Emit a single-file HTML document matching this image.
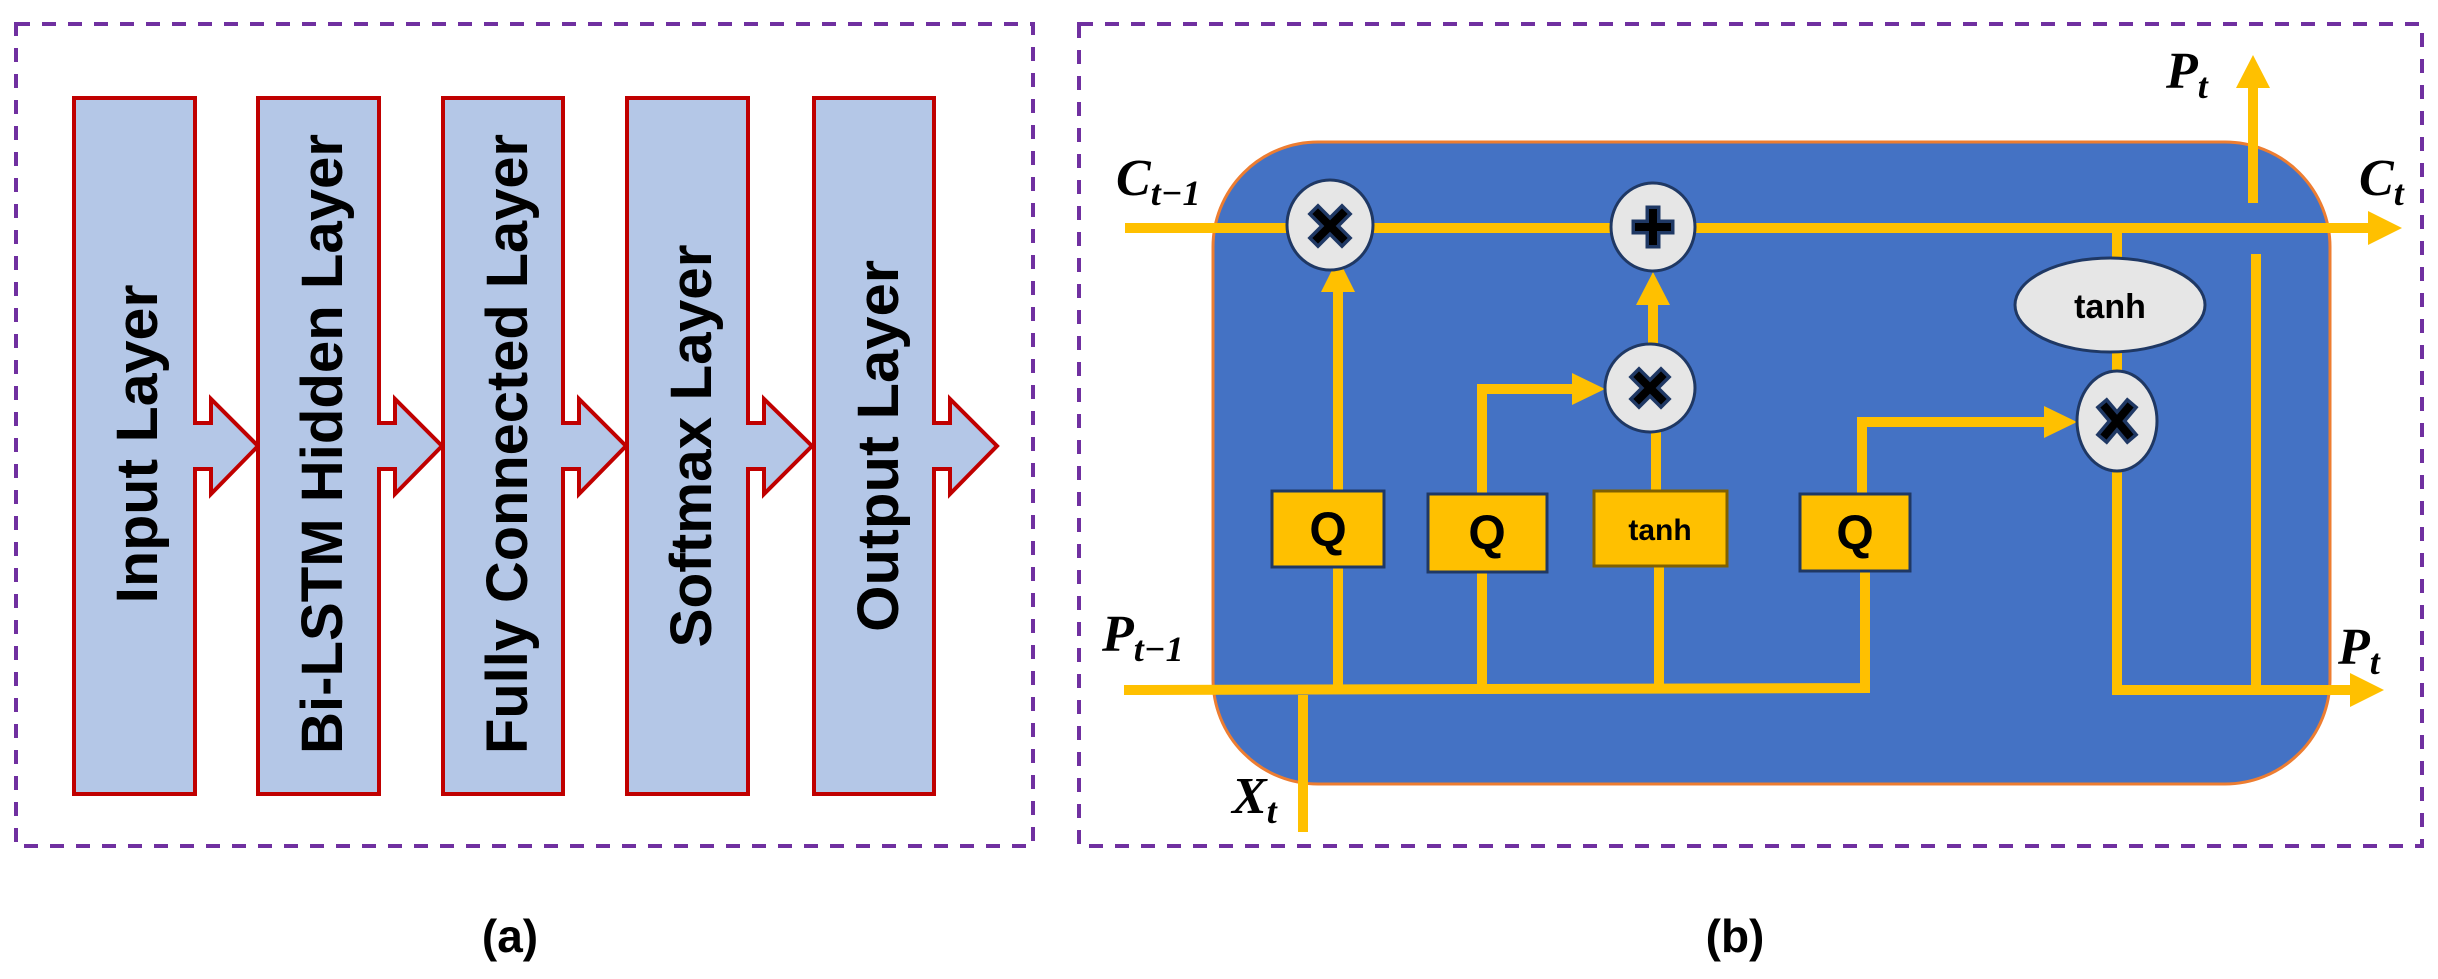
<!DOCTYPE html>
<html><head><meta charset="utf-8"><style>
html,body{margin:0;padding:0;background:#fff;}
svg{display:block;}
.lt{font-family:"Liberation Sans",sans-serif;font-weight:bold;font-size:58px;fill:#000;}
.m{font-family:"Liberation Serif",serif;font-weight:bold;font-style:italic;fill:#000;}
.q{font-family:"Liberation Sans",sans-serif;font-weight:bold;fill:#000;}
</style></head><body>
<svg width="2438" height="979" viewBox="0 0 2438 979" xmlns="http://www.w3.org/2000/svg">
<defs>
<g id="arr"><path d="M0,0 h16 v-23 l47,46 -47,46 v-23 h-16" fill="#B4C7E7" stroke="#C00000" stroke-width="3"/></g>
</defs>
<!-- panel a -->
<rect x="16" y="24" width="1017" height="822" fill="none" stroke="#7030A0" stroke-width="4" stroke-dasharray="14 12"/>
<g fill="#B4C7E7" stroke="#C00000" stroke-width="4" stroke-linejoin="miter">
<path d="M74,98 H195 V423 H211 V399 L258,446 L211,494 V469 H195 V794 H74 Z"/>
<path d="M258,98 H379 V423 H395 V399 L442,446 L395,494 V469 H379 V794 H258 Z"/>
<path d="M443,98 H563 V423 H579 V399 L626,446 L579,494 V469 H563 V794 H443 Z"/>
<path d="M627,98 H748 V423 H764 V399 L812,446 L764,494 V469 H748 V794 H627 Z"/>
<path d="M814,98 H934 V423 H950 V399 L997,446 L950,494 V469 H934 V794 H814 Z"/>
</g>
<text class="lt" transform="translate(157,444) rotate(-90)" text-anchor="middle" textLength="319" lengthAdjust="spacingAndGlyphs">Input Layer</text>
<text class="lt" transform="translate(342,444) rotate(-90)" text-anchor="middle" textLength="620" lengthAdjust="spacingAndGlyphs">Bi-LSTM Hidden Layer</text>
<text class="lt" transform="translate(527,444) rotate(-90)" text-anchor="middle" textLength="620" lengthAdjust="spacingAndGlyphs">Fully Connected Layer</text>
<text class="lt" transform="translate(711,446) rotate(-90)" text-anchor="middle" textLength="403" lengthAdjust="spacingAndGlyphs">Softmax Layer</text>
<text class="lt" transform="translate(898,446) rotate(-90)" text-anchor="middle" textLength="372" lengthAdjust="spacingAndGlyphs">Output Layer</text>
<text class="q" x="510" y="952" font-size="46" text-anchor="middle">(a)</text>

<!-- panel b -->
<rect x="1079" y="24" width="1343" height="822" fill="none" stroke="#7030A0" stroke-width="4" stroke-dasharray="14 12"/>
<rect x="1213" y="142" width="1117" height="642" rx="105" ry="105" fill="#4472C4" stroke="#ED7D31" stroke-width="3"/>
<g stroke="#FFC000" stroke-width="10" fill="none">
<line x1="1125" y1="228" x2="2370" y2="228"/>
<line x1="1338" y1="567" x2="1338" y2="290"/>
<line x1="1653" y1="345" x2="1653" y2="303"/>
<polyline points="1482,679 1482,389 1574,389"/>
<line x1="1656" y1="430" x2="1656" y2="491"/>
<polyline points="1862,571 1862,422 2046,422"/>
<line x1="2117" y1="228" x2="2117" y2="258"/>
<line x1="2117" y1="352" x2="2117" y2="372"/>
<polyline points="2117,470 2117,690 2352,690"/>
<line x1="2256" y1="254" x2="2256" y2="690"/>
<line x1="2253" y1="203" x2="2253" y2="86"/>
<polyline points="1124,690 1865,688 1865,571"/>
<line x1="1338" y1="567" x2="1338" y2="690"/>
<line x1="1482" y1="572" x2="1482" y2="690"/>
<line x1="1659" y1="566" x2="1659" y2="690"/>
<line x1="1303" y1="695" x2="1303" y2="832"/>
</g>
<g fill="#FFC000">
<polygon points="1321,292 1355,292 1338,258"/>
<polygon points="1636,305 1670,305 1653,272"/>
<polygon points="1572,373 1572,405 1605,389"/>
<polygon points="2044,406 2044,438 2077,422"/>
<polygon points="2368,211 2368,245 2402,228"/>
<polygon points="2350,673 2350,707 2384,690"/>
<polygon points="2236,88 2270,88 2253,55"/>
</g>
<!-- circles -->
<g fill="#E6E6E6" stroke="#1F3864" stroke-width="3">
<ellipse cx="1330" cy="225" rx="43" ry="45"/>
<ellipse cx="1653" cy="227" rx="42" ry="44"/>
<ellipse cx="1650" cy="388" rx="45" ry="44"/>
<ellipse cx="2117" cy="421" rx="40" ry="50"/>
<ellipse cx="2110" cy="305" rx="95" ry="47"/>
</g>
<g stroke-linecap="square">
<g stroke="#1F3864" stroke-width="15">
<path d="M1318,214 L1342,238 M1342,214 L1318,238"/>
<path d="M1653,213 V241 M1639,227 H1667"/>
<path d="M1639,377 L1661,399 M1661,377 L1639,399"/>
<path d="M2106,408 L2128,434 M2128,408 L2106,434"/>
</g>
<g stroke="#000" stroke-width="8">
<path d="M1318,214 L1342,238 M1342,214 L1318,238"/>
<path d="M1653,213 V241 M1639,227 H1667"/>
<path d="M1639,377 L1661,399 M1661,377 L1639,399"/>
<path d="M2106,408 L2128,434 M2128,408 L2106,434"/>
</g>
</g>
<text class="q" x="2110" y="318" font-size="34" text-anchor="middle">tanh</text>
<!-- boxes -->
<rect x="1272" y="491" width="112" height="76" fill="#FFC000" stroke="#1F3864" stroke-width="3"/>
<rect x="1428" y="494" width="119" height="78" fill="#FFC000" stroke="#1F3864" stroke-width="3"/>
<rect x="1594" y="491" width="133" height="75" fill="#FFC000" stroke="#7F6000" stroke-width="3"/>
<rect x="1800" y="494" width="110" height="77" fill="#FFC000" stroke="#1F3864" stroke-width="3"/>
<text class="q" x="1328" y="546" font-size="48" text-anchor="middle">Q</text>
<text class="q" x="1487" y="549" font-size="48" text-anchor="middle">Q</text>
<text class="q" x="1660" y="540" font-size="30" text-anchor="middle">tanh</text>
<text class="q" x="1855" y="549" font-size="48" text-anchor="middle">Q</text>
<!-- math labels -->
<text class="m" x="1116" y="195" font-size="52">C<tspan font-size="36" dy="10">t−1</tspan></text>
<text class="m" x="2359" y="195" font-size="52">C<tspan font-size="36" dy="10">t</tspan></text>
<text class="m" x="2166" y="88" font-size="52">P<tspan font-size="36" dy="10">t</tspan></text>
<text class="m" x="1102" y="651" font-size="52">P<tspan font-size="36" dy="10">t−1</tspan></text>
<text class="m" x="2338" y="664" font-size="52">P<tspan font-size="36" dy="10">t</tspan></text>
<text class="m" x="1232" y="813" font-size="52">X<tspan font-size="36" dy="10">t</tspan></text>
<text class="q" x="1735" y="952" font-size="46" text-anchor="middle">(b)</text>
</svg>
</body></html>
